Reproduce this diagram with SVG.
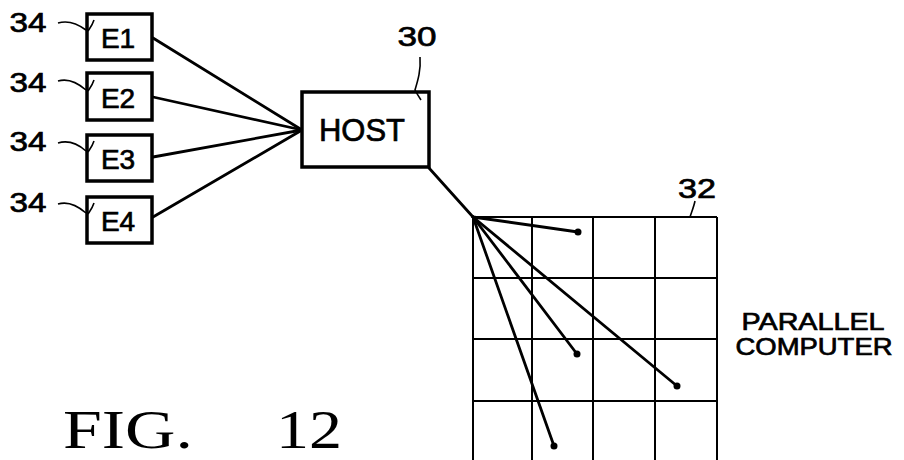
<svg xmlns="http://www.w3.org/2000/svg" width="904" height="460" viewBox="0 0 904 460">
<style>
.box{fill:#fff;stroke:#000;stroke-width:3.5}
.t{font-family:"Liberation Sans",Arial,sans-serif;fill:#000;stroke:#000;stroke-width:0.7}
.lead{fill:none;stroke:#000;stroke-width:1.6}
.con{fill:none;stroke:#000;stroke-width:2.8;stroke-linecap:round}
.grid{fill:none;stroke:#000;stroke-width:2}
.fig{font-family:"Liberation Serif","Times New Roman",serif;font-size:55px;fill:#000}
</style>
<rect width="904" height="460" fill="#fff"/>
<g id="connectors">
<line class="con" x1="153" y1="38" x2="302" y2="130"/>
<line class="con" x1="153" y1="97" x2="302" y2="130"/>
<line class="con" x1="153" y1="157" x2="302" y2="130"/>
<line class="con" x1="153" y1="217" x2="302" y2="130"/>
<line class="con" x1="429" y1="168" x2="473" y2="217"/>
<line class="con" x1="473" y1="217" x2="578" y2="232"/>
<line class="con" x1="473" y1="217" x2="577" y2="354"/>
<line class="con" x1="473" y1="217" x2="677" y2="386"/>
<line class="con" x1="473" y1="217" x2="554" y2="446"/>
<circle cx="578" cy="232" r="3.5"/>
<circle cx="577" cy="354" r="3.5"/>
<circle cx="677" cy="386" r="3.5"/>
<circle cx="554" cy="446" r="3.5"/>
</g>
<g id="E1">
<rect class="box" x="87" y="14" width="65" height="46"/>
<text class="t" x="118" y="48" font-size="28" text-anchor="middle">E1</text>
<text class="t" x="28" y="32" font-size="27" text-anchor="middle" textLength="37" lengthAdjust="spacingAndGlyphs">34</text>
<path class="lead" d="M58,23 C68,20 78,24 86,30 M94,20 C92,26 90,28 88,31"/>
</g>
<g id="E2">
<rect class="box" x="87" y="73" width="65" height="47"/>
<text class="t" x="118" y="108" font-size="28" text-anchor="middle">E2</text>
<text class="t" x="28" y="92" font-size="27" text-anchor="middle" textLength="37" lengthAdjust="spacingAndGlyphs">34</text>
<path class="lead" d="M58,81 C68,78 78,83 86,90 M94,80 C92,86 90,88 88,91"/>
</g>
<g id="E3">
<rect class="box" x="87" y="135" width="65" height="46"/>
<text class="t" x="118" y="169" font-size="28" text-anchor="middle">E3</text>
<text class="t" x="28" y="151" font-size="27" text-anchor="middle" textLength="37" lengthAdjust="spacingAndGlyphs">34</text>
<path class="lead" d="M58,143 C68,140 78,144 86,151 M94,141 C92,147 90,149 88,152"/>
</g>
<g id="E4">
<rect class="box" x="87" y="197" width="65" height="46"/>
<text class="t" x="118" y="231" font-size="28" text-anchor="middle">E4</text>
<text class="t" x="28" y="212" font-size="27" text-anchor="middle" textLength="37" lengthAdjust="spacingAndGlyphs">34</text>
<path class="lead" d="M58,204 C68,201 78,206 86,213 M94,203 C92,209 90,211 88,214"/>
</g>
<g id="host">
<rect class="box" x="302" y="92" width="127" height="75"/>
<text class="t" x="362" y="141" font-size="32" text-anchor="middle" textLength="86" lengthAdjust="spacingAndGlyphs">HOST</text>
<text class="t" x="417" y="46" font-size="28" text-anchor="middle" textLength="39" lengthAdjust="spacingAndGlyphs">30</text>
<path class="lead" d="M420,57 C421,70 418,80 415,90 C417,94 419,97 421,100"/>
</g>
<g id="parallel-computer">
<path class="grid" d="M473,217 H717 M473,278 H717 M473,339 H717 M473,401 H717 M473,217 V462 M532,217 V462 M593,217 V462 M655,217 V462 M717,217 V462"/>
<text class="t" x="697" y="198" font-size="28" text-anchor="middle" textLength="38" lengthAdjust="spacingAndGlyphs">32</text>
<path class="lead" d="M695,201 C694,206 692,211 690,217"/>
<text class="t" x="813" y="330" font-size="24" text-anchor="middle" textLength="143" lengthAdjust="spacingAndGlyphs">PARALLEL</text>
<text class="t" x="814" y="355" font-size="24" text-anchor="middle" textLength="157" lengthAdjust="spacingAndGlyphs">COMPUTER</text>
</g>
<text class="fig" x="63" y="448" textLength="130" lengthAdjust="spacingAndGlyphs">FIG.</text>
<text class="fig" x="276" y="448" textLength="66" lengthAdjust="spacingAndGlyphs">12</text>
</svg>
